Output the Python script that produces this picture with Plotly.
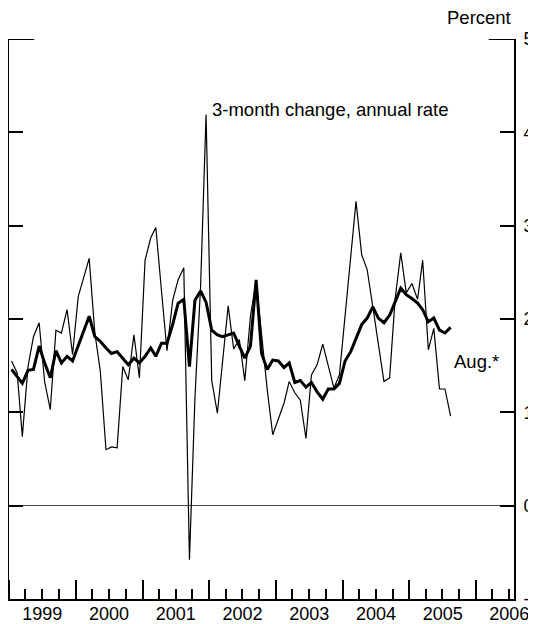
import pandas as pd
import plotly.graph_objects as go

# Monthly observations, Jan 1999 - Aug 2005
start_month = "1999-01-01"
n_months = 80
three_month_change = [
    1.55, 1.42, 0.74, 1.49, 1.81, 1.96, 1.33, 1.03, 1.88, 1.85, 2.10, 1.62,
    2.24, 2.45, 2.65, 1.85, 1.44, 0.60, 0.63, 0.62, 1.49, 1.35, 1.83, 1.37,
    2.63, 2.87, 2.98, 2.30, 1.66, 2.20, 2.42, 2.55, -0.58, 1.15, 2.35, 4.19,
    1.34, 0.99, 1.55, 2.14, 1.68, 1.78, 1.34, 2.03, 2.41, 1.83, 1.24, 0.76,
    0.92, 1.10, 1.33, 1.21, 1.13, 0.72, 1.40, 1.51, 1.73, 1.49, 1.26, 1.40,
    2.05, 2.68, 3.26, 2.69, 2.53, 2.13, 1.74, 1.33, 1.37, 2.21, 2.71, 2.28,
    2.38, 2.21, 2.63, 1.67, 1.90, 1.25, 1.25, 0.96,
]
twelve_month_change = [
    1.46, 1.38, 1.31, 1.45, 1.46, 1.71, 1.53, 1.37, 1.66, 1.53, 1.60, 1.55,
    1.71, 1.87, 2.03, 1.81, 1.76, 1.69, 1.63, 1.65, 1.58, 1.51, 1.58, 1.53,
    1.60, 1.69, 1.60, 1.74, 1.74, 1.94, 2.17, 2.21, 1.49, 2.20, 2.30, 2.18,
    1.88, 1.83, 1.81, 1.83, 1.85, 1.71, 1.58, 1.71, 2.42, 1.63, 1.46, 1.56,
    1.55, 1.48, 1.53, 1.32, 1.34, 1.27, 1.32, 1.22, 1.14, 1.25, 1.25, 1.31,
    1.55, 1.65, 1.80, 1.94, 2.01, 2.13, 2.01, 1.96, 2.04, 2.19, 2.33, 2.26,
    2.22, 2.17, 2.10, 1.97, 2.01, 1.88, 1.85, 1.91,
]
y_ticks = [-1, 0, 1, 2, 3, 4, 5]
y_tick_labels = ["-1", "0", "1", "2", "3", "4", "5"]

dates = pd.date_range(start_month, periods=n_months, freq="MS") + pd.Timedelta(days=14)

FONT = "Liberation Sans, Arial, Helvetica, sans-serif"

fig = go.Figure()
fig.add_trace(go.Scatter(x=dates, y=three_month_change, mode="lines",
                         line=dict(color="black", width=1.2), showlegend=False))
fig.add_trace(go.Scatter(x=dates, y=twelve_month_change, mode="lines",
                         line=dict(color="black", width=3), showlegend=False))

fig.update_layout(
    width=528, height=616,
    margin=dict(l=1, r=22, t=31, b=25, autoexpand=False),
    paper_bgcolor="white", plot_bgcolor="white",
    font=dict(family=FONT, size=18, color="black"),
    xaxis=dict(
        type="date",
        range=["1999-01-01", "2006-07-28"],
        tick0="1999-01-01", dtick="M12",
        ticklabelmode="period", tickformat="%Y",
        ticks="inside", ticklen=19, tickwidth=2, tickcolor="black",
        minor=dict(dtick="M3", ticks="inside", ticklen=10, tickwidth=2,
                   tickcolor="black", showgrid=False),
        showline=True, linewidth=2, linecolor="black",
        showgrid=False, zeroline=False,
        ticklabelstandoff=-3,
        ticklabeloverflow="allow",
        tickfont=dict(size=18),
        fixedrange=True,
    ),
    yaxis=dict(
        range=[-1, 5],
        tickvals=y_ticks, ticktext=y_tick_labels,
        side="right", mirror="ticks",
        ticks="inside", ticklen=14, tickwidth=2, tickcolor="black",
        showline=True, linewidth=2, linecolor="black",
        showgrid=False,
        zeroline=True, zerolinewidth=1, zerolinecolor="#444444",
        ticklabelstandoff=4,
        ticklabeloverflow="allow",
        tickfont=dict(size=18),
        fixedrange=True,
    ),
    annotations=[
        dict(text="Percent", xref="paper", yref="paper", x=0.9974, y=1.0384,
             xanchor="right", yanchor="middle", showarrow=False,
             font=dict(size=18.5)),
        dict(text="3-month change, annual rate", xref="paper", yref="paper",
             x=0.398, y=0.875, xanchor="left", yanchor="middle", showarrow=False,
             font=dict(size=18.5)),
        dict(text="Aug.*", xref="paper", yref="paper", x=0.9257, y=0.4238,
             xanchor="center", yanchor="middle", showarrow=False,
             font=dict(size=18.5)),
    ],
    shapes=[
        dict(type="line", xref="paper", yref="y", x0=0, x1=0.05, y0=5, y1=5,
             line=dict(color="black", width=2)),
        dict(type="line", xref="paper", yref="y", x0=0.95, x1=1, y0=5, y1=5,
             line=dict(color="black", width=2)),
    ],
)

fig.write_html("out.html")
